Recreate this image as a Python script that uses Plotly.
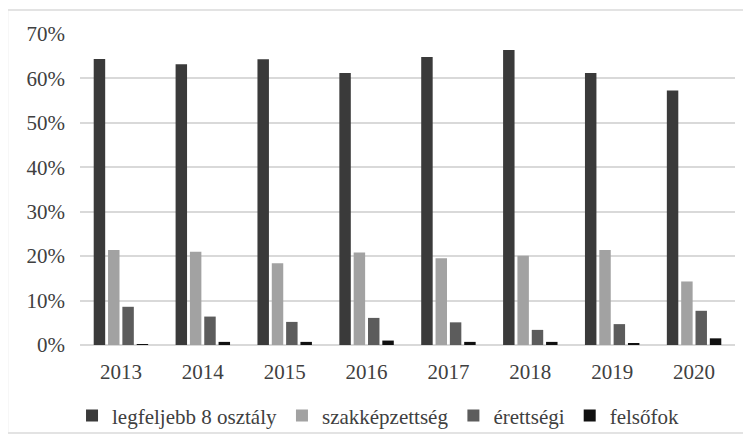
import plotly.graph_objects as go

# Adatok
years = ["2013", "2014", "2015", "2016", "2017", "2018", "2019", "2020"]
legfeljebb_8 = [0.644, 0.632, 0.643, 0.612, 0.648, 0.664, 0.612, 0.573]
szakkepzettseg = [0.214, 0.210, 0.184, 0.208, 0.195, 0.201, 0.214, 0.143]
erettsegi = [0.086, 0.064, 0.052, 0.061, 0.051, 0.034, 0.047, 0.077]
felsofok = [0.001, 0.007, 0.007, 0.010, 0.007, 0.007, 0.003, 0.015]

series = [
    ("legfeljebb 8 osztály", legfeljebb_8, "#3a3a3a"),
    ("szakképzettség", szakkepzettseg, "#a2a2a2"),
    ("érettségi", erettsegi, "#5c5c5c"),
    ("felsőfok", felsofok, "#111111"),
]

serif = "Liberation Serif, Times New Roman, DejaVu Serif, serif"

fig = go.Figure()
for name, vals, color in series:
    fig.add_trace(go.Bar(x=years, y=vals, name=name, marker=dict(color=color, line=dict(width=0))))

# az oldal 8px-es margója miatt kisebb ábra
fig.update_layout(
    width=743,
    height=435,
    margin=dict(l=72, r=16, t=26, b=98, autoexpand=False),
    paper_bgcolor="white",
    plot_bgcolor="white",
    font=dict(family=serif, size=21, color="#404040"),
    barmode="group",
    bargap=0.30,
    bargroupgap=0.2,
    showlegend=True,
    legend=dict(orientation="h", x=0.455, xanchor="center", y=-0.228, yanchor="middle",
                font=dict(family=serif, size=21, color="#404040"), itemwidth=30,
                bgcolor="rgba(0,0,0,0)", traceorder="normal"),
    yaxis=dict(range=[0, 0.7], dtick=0.1, tickformat=".0%", showgrid=True,
               gridcolor="#d9d9d9", gridwidth=1.5, zeroline=True, zerolinecolor="#d9d9d9",
               zerolinewidth=1.5, ticks="", ticklabelstandoff=14,
               tickfont=dict(family=serif, size=21, color="#404040")),
    xaxis=dict(showgrid=False, showline=False, ticks="", ticklabelstandoff=12,
               tickfont=dict(family=serif, size=21, color="#404040")),
    shapes=[dict(type="rect", xref="paper", yref="paper", x0=-0.111, x1=1.015, y0=-0.283, y1=1.077,
                 line=dict(color="#e3e3e3", width=2), layer="below")],
)

fig.write_html("out.html")
